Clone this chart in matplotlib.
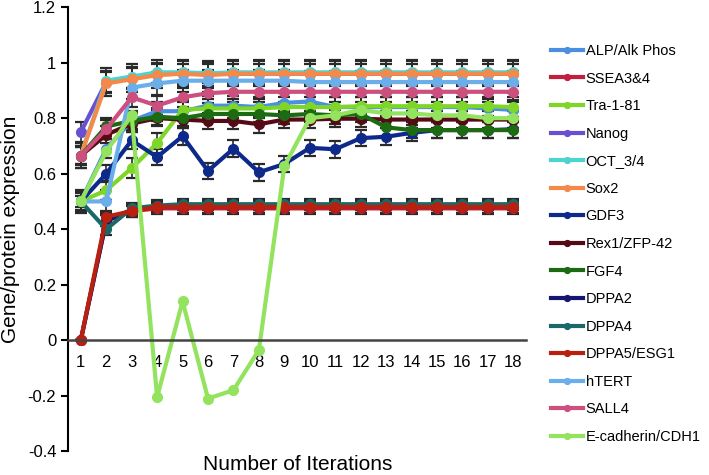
import matplotlib
matplotlib.use('Agg')
from matplotlib import pyplot as plt

plt.rcParams['font.family'] = ['Liberation Sans', 'DejaVu Sans']

iterations = list(range(1, 19))

names = ['ALP/Alk Phos', 'SSEA3&4', 'Tra-1-81', 'Nanog', 'OCT_3/4', 'Sox2',
         'GDF3', 'Rex1/ZFP-42', 'FGF4', 'DPPA2', 'DPPA4', 'DPPA5/ESG1',
         'hTERT', 'SALL4', 'E-cadherin/CDH1']

alp = [0.50, 0.69, 0.79, 0.825, 0.825, 0.845, 0.845, 0.84, 0.855, 0.86, 0.84, 0.84,
       0.84, 0.84, 0.84, 0.84, 0.835, 0.83]
ssea = [0.0, 0.43, 0.465, 0.475, 0.475, 0.475, 0.475, 0.475, 0.475, 0.475, 0.475, 0.475,
        0.475, 0.475, 0.475, 0.475, 0.475, 0.475]
tra = [0.50, 0.54, 0.62, 0.71, 0.83, 0.835, 0.835, 0.835, 0.84, 0.84, 0.84, 0.843,
       0.843, 0.843, 0.843, 0.843, 0.843, 0.84]
nanog = [0.75, 0.93, 0.945, 0.96, 0.96, 0.96, 0.96, 0.96, 0.96, 0.96, 0.96, 0.96,
         0.96, 0.96, 0.96, 0.96, 0.96, 0.96]
oct34 = [0.665, 0.935, 0.95, 0.965, 0.965, 0.962, 0.965, 0.965, 0.965, 0.965, 0.965, 0.965,
         0.965, 0.965, 0.965, 0.965, 0.965, 0.965]
sox2 = [0.665, 0.925, 0.94, 0.955, 0.96, 0.955, 0.96, 0.96, 0.96, 0.96, 0.96, 0.96,
        0.96, 0.96, 0.96, 0.96, 0.96, 0.96]
gdf3 = [0.50, 0.60, 0.72, 0.66, 0.735, 0.61, 0.69, 0.605, 0.635, 0.693, 0.688, 0.728,
        0.733, 0.747, 0.757, 0.757, 0.757, 0.76]
rex1 = [0.665, 0.74, 0.78, 0.80, 0.795, 0.79, 0.79, 0.778, 0.795, 0.795, 0.798, 0.798,
        0.795, 0.795, 0.795, 0.795, 0.795, 0.795]
fgf4 = [0.665, 0.77, 0.79, 0.805, 0.80, 0.815, 0.815, 0.815, 0.81, 0.815, 0.81, 0.815,
        0.767, 0.757, 0.757, 0.757, 0.757, 0.757]
dppa2 = [0.0, 0.43, 0.47, 0.48, 0.48, 0.48, 0.48, 0.48, 0.48, 0.48, 0.48, 0.48,
         0.48, 0.48, 0.48, 0.48, 0.48, 0.48]
dppa4 = [0.50, 0.40, 0.475, 0.485, 0.49, 0.49, 0.49, 0.49, 0.49, 0.49, 0.49, 0.49,
         0.49, 0.49, 0.49, 0.49, 0.49, 0.49]
dppa5 = [0.0, 0.445, 0.465, 0.48, 0.48, 0.48, 0.48, 0.48, 0.48, 0.48, 0.48, 0.48,
         0.48, 0.48, 0.48, 0.48, 0.48, 0.48]
htert = [0.50, 0.50, 0.91, 0.925, 0.935, 0.935, 0.935, 0.935, 0.935, 0.93, 0.93, 0.93,
         0.93, 0.93, 0.93, 0.93, 0.93, 0.93]
sall4 = [0.665, 0.76, 0.875, 0.845, 0.875, 0.89, 0.895, 0.895, 0.895, 0.895, 0.895, 0.895,
         0.895, 0.895, 0.895, 0.895, 0.895, 0.895]
ecad = [0.50, 0.68, 0.81, -0.205, 0.14, -0.21, -0.18, -0.035, 0.627, 0.80, 0.81, 0.83,
        0.817, 0.817, 0.81, 0.81, 0.80, 0.80]

# one error size per series (E-cadherin has none)
errors = [0.035, 0.02, 0.035, 0.035, 0.045, 0.045, 0.03, 0.03, 0.03, 0.02, 0.02, 0.02,
          0.04, 0.035, 0.0]

colors = ['#4a8fe0', '#c21f3c', '#7dd628', '#6a4fd0', '#4dd3d0', '#f5894a',
          '#0d2a8a', '#560a16', '#1c6b12', '#161670', '#1b6868', '#b8200f',
          '#6aaeea', '#cc4f7d', '#93e35f']

series = [alp, ssea, tra, nanog, oct34, sox2, gdf3, rex1, fgf4, dppa2, dppa4, dppa5,
          htert, sall4, ecad]

fig = plt.figure(figsize=(7.09, 4.75), dpi=100)
ax = fig.add_axes([0.096, 0.05, 0.646, 0.935])

for name, vals, col, err in zip(names, series, colors, errors):
    if err > 0:
        # no bar on the points sitting at zero
        yerr = [0 if v == 0 else err for v in vals]
        ax.errorbar(iterations, vals, yerr=yerr, fmt='none', ecolor='#2a2a2a',
                    elinewidth=1.2, capsize=4, capthick=1.6, zorder=1)
    ax.plot(iterations, vals, color=col, lw=3, marker='o', markersize=7,
            label=name, zorder=2)

ax.set_xlim(0.5, 18.5)
ax.set_ylim(-0.4, 1.2)
ax.spines['top'].set_visible(False)
ax.spines['right'].set_visible(False)
ax.spines['bottom'].set_position(('data', 0))
ax.spines['bottom'].set_color('#444444')
ax.spines['bottom'].set_linewidth(1.8)
ax.spines['left'].set_linewidth(1.5)
ax.set_xticks(iterations)
ax.set_xticklabels([str(i) for i in iterations], fontsize=12)
ax.tick_params(axis='x', length=0, pad=11)
yticks = [-0.4, -0.2, 0, 0.2, 0.4, 0.6, 0.8, 1, 1.2]
ax.set_yticks(yticks)
ax.set_yticklabels(['-0.4', '-0.2', '0', '0.2', '0.4', '0.6', '0.8', '1', '1.2'], fontsize=12)
ax.tick_params(axis='y', direction='out', length=5, width=1.5)

ax.set_ylabel('Gene/protein expression', fontsize=15)
ax.yaxis.set_label_coords(-0.105, 0.5)
fig.text(0.42, 0.022, 'Number of Iterations', fontsize=15, ha='center', va='center')

handles, labels = ax.get_legend_handles_labels()
leg = fig.legend(handles, labels, loc='upper left', bbox_to_anchor=(0.758, 0.935),
                 frameon=False, fontsize=10.5, labelspacing=0.93, handlelength=2.2,
                 handletextpad=0.2, markerscale=0.6)

fig.savefig('out.png', dpi=100)
